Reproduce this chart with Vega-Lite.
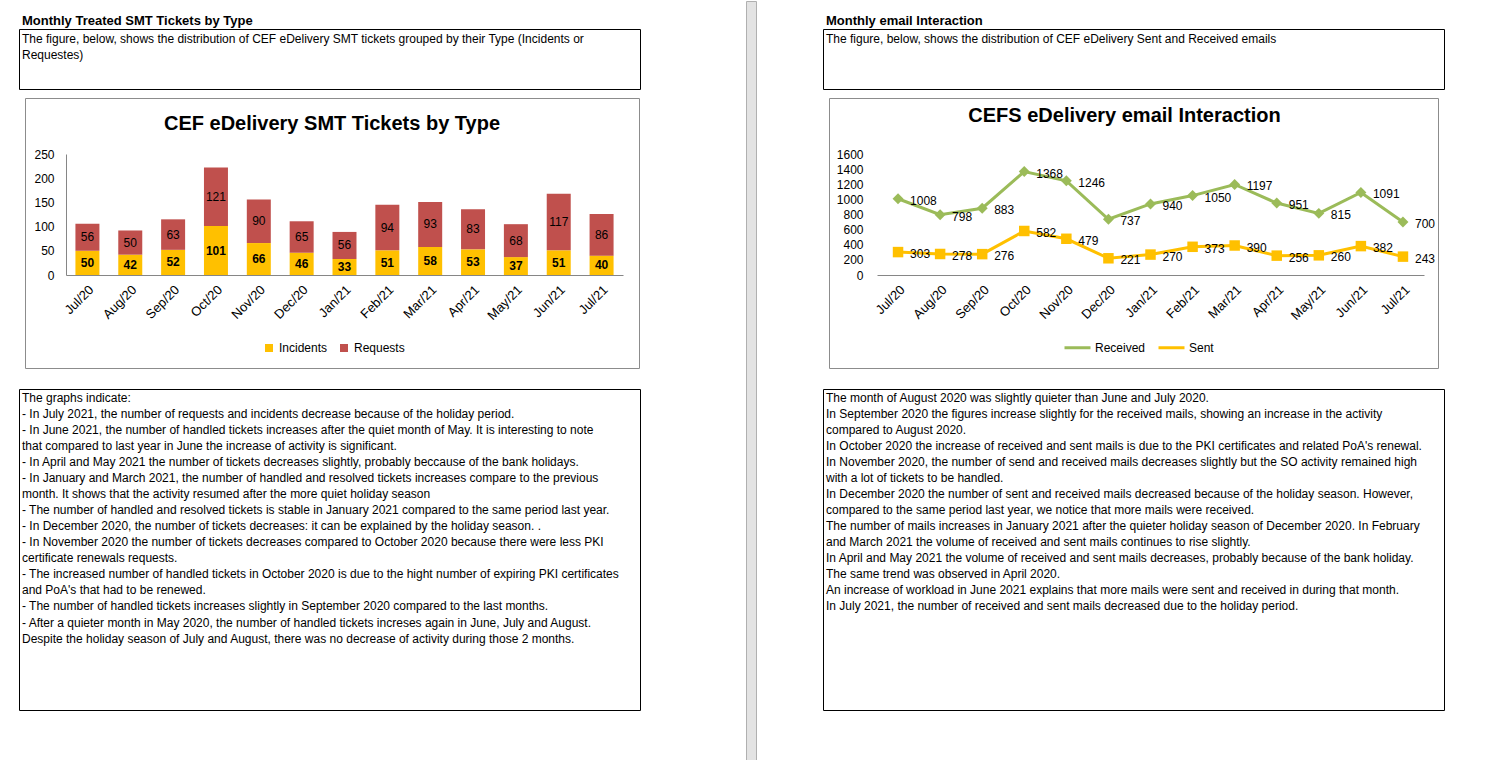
{
  "$schema": "https://vega.github.io/schema/vega-lite/v6.json",
  "padding": {"left": 18, "top": 0, "right": 0, "bottom": 0},
  "background": "white",
  "resolve": {"scale": {"color": "independent"}, "legend": {"color": "independent"}},
  "config": {
    "font": "Liberation Sans",
    "view": {"stroke": null},
    "axis": {"labelFont": "Liberation Sans", "labelColor": "#000", "labelFontSize": 12, "domainColor": "#868686", "grid": false, "ticks": false, "title": null},
    "legend": {"labelFont": "Liberation Sans", "labelColor": "#000", "labelFontSize": 12},
    "title": {"font": "Liberation Sans", "color": "#000", "fontWeight": "bold"}
  },
  "datasets": {
    "tickets": [
      {"month": "Jul/20", "type": "Incidents", "count": 50}, {"month": "Jul/20", "type": "Requests", "count": 56},
      {"month": "Aug/20", "type": "Incidents", "count": 42}, {"month": "Aug/20", "type": "Requests", "count": 50},
      {"month": "Sep/20", "type": "Incidents", "count": 52}, {"month": "Sep/20", "type": "Requests", "count": 63},
      {"month": "Oct/20", "type": "Incidents", "count": 101}, {"month": "Oct/20", "type": "Requests", "count": 121},
      {"month": "Nov/20", "type": "Incidents", "count": 66}, {"month": "Nov/20", "type": "Requests", "count": 90},
      {"month": "Dec/20", "type": "Incidents", "count": 46}, {"month": "Dec/20", "type": "Requests", "count": 65},
      {"month": "Jan/21", "type": "Incidents", "count": 33}, {"month": "Jan/21", "type": "Requests", "count": 56},
      {"month": "Feb/21", "type": "Incidents", "count": 51}, {"month": "Feb/21", "type": "Requests", "count": 94},
      {"month": "Mar/21", "type": "Incidents", "count": 58}, {"month": "Mar/21", "type": "Requests", "count": 93},
      {"month": "Apr/21", "type": "Incidents", "count": 53}, {"month": "Apr/21", "type": "Requests", "count": 83},
      {"month": "May/21", "type": "Incidents", "count": 37}, {"month": "May/21", "type": "Requests", "count": 68},
      {"month": "Jun/21", "type": "Incidents", "count": 51}, {"month": "Jun/21", "type": "Requests", "count": 117},
      {"month": "Jul/21", "type": "Incidents", "count": 40}, {"month": "Jul/21", "type": "Requests", "count": 86}
    ],
    "emails": [
      {"month": "Jul/20", "series": "Received", "count": 1008}, {"month": "Jul/20", "series": "Sent", "count": 303},
      {"month": "Aug/20", "series": "Received", "count": 798}, {"month": "Aug/20", "series": "Sent", "count": 278},
      {"month": "Sep/20", "series": "Received", "count": 883}, {"month": "Sep/20", "series": "Sent", "count": 276},
      {"month": "Oct/20", "series": "Received", "count": 1368}, {"month": "Oct/20", "series": "Sent", "count": 582},
      {"month": "Nov/20", "series": "Received", "count": 1246}, {"month": "Nov/20", "series": "Sent", "count": 479},
      {"month": "Dec/20", "series": "Received", "count": 737}, {"month": "Dec/20", "series": "Sent", "count": 221},
      {"month": "Jan/21", "series": "Received", "count": 940}, {"month": "Jan/21", "series": "Sent", "count": 270},
      {"month": "Feb/21", "series": "Received", "count": 1050}, {"month": "Feb/21", "series": "Sent", "count": 373},
      {"month": "Mar/21", "series": "Received", "count": 1197}, {"month": "Mar/21", "series": "Sent", "count": 390},
      {"month": "Apr/21", "series": "Received", "count": 951}, {"month": "Apr/21", "series": "Sent", "count": 256},
      {"month": "May/21", "series": "Received", "count": 815}, {"month": "May/21", "series": "Sent", "count": 260},
      {"month": "Jun/21", "series": "Received", "count": 1091}, {"month": "Jun/21", "series": "Sent", "count": 382},
      {"month": "Jul/21", "series": "Received", "count": 700}, {"month": "Jul/21", "series": "Sent", "count": 243}
    ],
    "descL": [
      {"line": 0, "text": "The figure, below, shows the distribution of CEF eDelivery SMT tickets grouped by their Type (Incidents or"},
      {"line": 1, "text": "Requestes)"}
    ],
    "descR": [
      {"line": 0, "text": "The figure, below, shows the distribution of CEF eDelivery Sent and Received emails"}
    ],
    "notesL": [
      {"line": 0, "text": "The graphs indicate:"},
      {"line": 1, "text": "- In July 2021, the number of requests and incidents decrease because of the holiday period."},
      {"line": 2, "text": "- In June 2021, the number of handled tickets increases after the quiet month of May. It is interesting to note"},
      {"line": 3, "text": "that compared to last year in June the increase of activity is significant."},
      {"line": 4, "text": "- In April and May 2021 the number of tickets decreases slightly, probably beccause of the bank holidays."},
      {"line": 5, "text": "- In January and March 2021, the number of handled and resolved tickets increases compare to the previous"},
      {"line": 6, "text": "month. It shows that the activity resumed after the more quiet holiday season"},
      {"line": 7, "text": "- The number of handled and resolved tickets is stable in January 2021 compared to the same period last year."},
      {"line": 8, "text": "- In December 2020, the number of tickets decreases: it can be explained by the holiday season. ."},
      {"line": 9, "text": "- In November 2020 the number of tickets decreases compared to October 2020 because there were less PKI"},
      {"line": 10, "text": "certificate renewals requests."},
      {"line": 11, "text": "- The increased number of handled tickets in October 2020 is due to the hight number of expiring PKI certificates"},
      {"line": 12, "text": "and PoA's that had to be renewed."},
      {"line": 13, "text": "- The number of handled tickets increases slightly in September 2020 compared to the last months."},
      {"line": 14, "text": "- After a quieter month in May 2020, the number of handled tickets increses again in June, July and August."},
      {"line": 15, "text": "Despite the holiday season of July and August, there was no decrease of activity during those 2 months."}
    ],
    "notesR": [
      {"line": 0, "text": "The month of August 2020 was slightly quieter than June and July 2020."},
      {"line": 1, "text": "In September 2020 the figures increase slightly for the received mails, showing an increase in the activity"},
      {"line": 2, "text": "compared to August 2020."},
      {"line": 3, "text": "In October 2020 the increase of received and sent mails is due to the PKI certificates and related PoA's renewal."},
      {"line": 4, "text": "In November 2020, the number of send and received mails decreases slightly but the SO activity remained high"},
      {"line": 5, "text": "with a lot of tickets to be handled."},
      {"line": 6, "text": "In December 2020 the number of sent and received mails decreased because of the holiday season. However,"},
      {"line": 7, "text": "compared to the same period last year, we notice that more mails were received."},
      {"line": 8, "text": "The number of mails increases in January 2021 after the quieter holiday season of December 2020. In February"},
      {"line": 9, "text": "and March 2021 the volume of received and sent mails continues to rise slightly."},
      {"line": 10, "text": "In April and May 2021 the volume of received and sent mails decreases, probably because of the bank holiday."},
      {"line": 11, "text": "The same trend was observed in April 2020."},
      {"line": 12, "text": "An increase of workload in June 2021 explains that more mails were sent and received in during that month."},
      {"line": 13, "text": "In July 2021, the number of received and sent mails decreased due to the holiday period."}
    ]
  },
  "spacing": 104,
  "hconcat": [
    {
      "spacing": 11,
      "resolve": {"scale": {"color": "independent"}, "legend": {"color": "independent"}},
      "vconcat": [
        {"width": 1, "height": 1, "view": {"stroke": "transparent"}, "data": {"values": []}, "mark": "rect"},
        {
          "spacing": 19,
          "resolve": {"scale": {"color": "independent"}, "legend": {"color": "independent"}},
          "vconcat": [
            {
              "spacing": 7,
              "resolve": {"scale": {"color": "independent"}, "legend": {"color": "independent"}},
              "vconcat": [
                {
                  "width": 621, "height": 60,
                  "view": {"stroke": "#000", "strokeWidth": 1},
                  "title": {"text": "Monthly Treated SMT Tickets by Type", "anchor": "start", "fontSize": 13, "offset": 1, "dx": 3},
                  "data": {"name": "descL"},
                  "mark": {"type": "text", "align": "left", "baseline": "middle", "dx": 3, "fontSize": 12, "color": "#000"},
                  "encoding": {
                    "x": {"datum": 0, "type": "quantitative", "scale": {"domain": [0, 1]}, "axis": null},
                    "y": {"field": "line", "type": "quantitative", "scale": {"domain": [-0.6, 3.15], "reverse": true}, "axis": null},
                    "text": {"field": "text"}
                  }
                },
                {
                  "spacing": 3,
                  "resolve": {"scale": {"color": "independent"}, "legend": {"color": "independent"}},
                  "hconcat": [
                    {"width": 1, "height": 1, "view": {"stroke": "transparent"}, "data": {"values": []}, "mark": "rect"},
                    {
                      "width": 614, "height": 270,
                      "view": {"stroke": "#8c8c8c", "strokeWidth": 1},
                      "title": {"text": "CEF eDelivery SMT Tickets by Type", "fontSize": 20, "anchor": "middle", "offset": -36},
                      "data": {"name": "tickets"},
                      "encoding": {
                        "x": {
                          "field": "month", "type": "nominal",
                          "sort": ["Jul/20", "Aug/20", "Sep/20", "Oct/20", "Nov/20", "Dec/20", "Jan/21", "Feb/21", "Mar/21", "Apr/21", "May/21", "Jun/21", "Jul/21"],
                          "scale": {"range": [41, 598], "paddingInner": 0.44, "paddingOuter": 0.22},
                          "axis": {"labelAngle": -45, "offset": -93, "labelPadding": 8, "labelFontSize": 13}
                        }
                      },
                      "layer": [
                        {
                          "mark": {"type": "bar"},
                          "encoding": {
                            "y": {"field": "count", "type": "quantitative", "stack": "zero",
                                  "scale": {"domain": [0, 250], "range": [177, 56], "nice": false},
                                  "axis": {"values": [0, 50, 100, 150, 200, 250], "offset": -41, "labelPadding": 12}},
                            "color": {"field": "type", "type": "nominal",
                                      "scale": {"domain": ["Incidents", "Requests"], "range": ["#FFC000", "#C0504D"]},
                                      "legend": {"orient": "none", "legendX": 238, "legendY": 244, "direction": "horizontal", "title": null,
                                                 "symbolType": "square", "symbolSize": 64, "symbolStrokeWidth": 0, "columnPadding": 10, "labelOffset": 4}},
                            "order": {"field": "type", "sort": "ascending"}
                          }
                        },
                        {
                          "transform": [
                            {"stack": "count", "groupby": ["month"], "sort": [{"field": "type", "order": "ascending"}], "as": ["lo", "hi"]},
                            {"fold": ["lo", "hi"], "as": ["edge", "pos"]},
                            {"aggregate": [{"op": "mean", "field": "pos", "as": "mid"}], "groupby": ["month", "type", "count"]},
                            {"filter": {"field": "type", "equal": "Incidents"}}
                          ],
                          "mark": {"type": "text", "fontSize": 12, "fontWeight": "bold", "baseline": "middle", "color": "#000"},
                          "encoding": {
                            "y": {"field": "mid", "type": "quantitative"},
                            "text": {"field": "count", "type": "quantitative"}
                          }
                        },
                        {
                          "transform": [
                            {"stack": "count", "groupby": ["month"], "sort": [{"field": "type", "order": "ascending"}], "as": ["lo", "hi"]},
                            {"fold": ["lo", "hi"], "as": ["edge", "pos"]},
                            {"aggregate": [{"op": "mean", "field": "pos", "as": "mid"}], "groupby": ["month", "type", "count"]},
                            {"filter": {"field": "type", "equal": "Requests"}}
                          ],
                          "mark": {"type": "text", "fontSize": 12, "baseline": "middle", "color": "#000"},
                          "encoding": {
                            "y": {"field": "mid", "type": "quantitative"},
                            "text": {"field": "count", "type": "quantitative"}
                          }
                        }
                      ]
                    }
                  ]
                }
              ]
            },
            {
              "width": 621, "height": 321,
              "view": {"stroke": "#000", "strokeWidth": 1},
              "data": {"name": "notesL"},
              "mark": {"type": "text", "align": "left", "baseline": "middle", "dx": 3, "fontSize": 12, "color": "#000"},
              "encoding": {
                "x": {"datum": 0, "type": "quantitative", "scale": {"domain": [0, 1]}, "axis": null},
                "y": {"field": "line", "type": "quantitative", "scale": {"domain": [-0.55, 19.45], "reverse": true}, "axis": null},
                "text": {"field": "text"}
              }
            }
          ]
        }
      ]
    },
    {
      "spacing": 65,
      "resolve": {"scale": {"color": "independent"}, "legend": {"color": "independent"}},
      "hconcat": [
        {"width": 10, "height": 760, "view": {"stroke": "#b0b0b0", "fill": "#e3e3e3"}, "data": {"values": []}, "mark": "rect"},
        {
          "spacing": 11,
          "resolve": {"scale": {"color": "independent"}, "legend": {"color": "independent"}},
          "vconcat": [
            {"width": 1, "height": 1, "view": {"stroke": "transparent"}, "data": {"values": []}, "mark": "rect"},
            {
              "spacing": 19,
              "resolve": {"scale": {"color": "independent"}, "legend": {"color": "independent"}},
              "vconcat": [
                {
                  "spacing": 7,
                  "resolve": {"scale": {"color": "independent"}, "legend": {"color": "independent"}},
                  "vconcat": [
                    {
                      "width": 621, "height": 60,
                      "view": {"stroke": "#000", "strokeWidth": 1},
                      "title": {"text": "Monthly email Interaction", "anchor": "start", "fontSize": 13, "offset": 1, "dx": 3},
                      "data": {"name": "descR"},
                      "mark": {"type": "text", "align": "left", "baseline": "middle", "dx": 3, "fontSize": 12, "color": "#000"},
                      "encoding": {
                        "x": {"datum": 0, "type": "quantitative", "scale": {"domain": [0, 1]}, "axis": null},
                        "y": {"field": "line", "type": "quantitative", "scale": {"domain": [-0.6, 3.15], "reverse": true}, "axis": null},
                        "text": {"field": "text"}
                      }
                    },
                    {
                      "spacing": 3,
                      "resolve": {"scale": {"color": "independent"}, "legend": {"color": "independent"}},
                      "hconcat": [
                        {"width": 1, "height": 1, "view": {"stroke": "transparent"}, "data": {"values": []}, "mark": "rect"},
                        {
                          "width": 609, "height": 270,
                          "view": {"stroke": "#8c8c8c", "strokeWidth": 1},
                          "title": {"text": "CEFS eDelivery email Interaction", "fontSize": 20, "anchor": "middle", "offset": -28, "dx": -9},
                          "data": {"name": "emails"},
                          "encoding": {
                            "x": {
                              "field": "month", "type": "ordinal",
                              "sort": ["Jul/20", "Aug/20", "Sep/20", "Oct/20", "Nov/20", "Dec/20", "Jan/21", "Feb/21", "Mar/21", "Apr/21", "May/21", "Jun/21", "Jul/21"],
                              "scale": {"type": "point", "range": [48, 595], "padding": 0.5},
                              "axis": {"labelAngle": -45, "offset": -93, "labelPadding": 8, "labelFontSize": 13}
                            },
                            "y": {"field": "count", "type": "quantitative",
                                  "scale": {"domain": [0, 1600], "range": [177, 56], "nice": false},
                                  "axis": {"values": [0, 200, 400, 600, 800, 1000, 1200, 1400, 1600], "format": "d", "offset": -48, "labelPadding": 14, "domain": false}}
                          },
                          "layer": [
                            {
                              "mark": {"type": "line", "strokeWidth": 3},
                              "encoding": {
                                "color": {"field": "series", "type": "nominal",
                                          "scale": {"domain": ["Received", "Sent"], "range": ["#9BBB59", "#FFC000"]},
                                          "legend": {"orient": "none", "legendX": 234, "legendY": 235, "direction": "horizontal", "title": null,
                                                     "symbolType": "stroke", "symbolSize": 676, "symbolStrokeWidth": 3, "columnPadding": 6, "labelOffset": 3}}
                              }
                            },
                            {
                              "transform": [{"filter": {"field": "series", "equal": "Received"}}],
                              "mark": {"type": "point", "shape": "diamond", "filled": true, "size": 120, "opacity": 1},
                              "encoding": {"color": {"field": "series", "type": "nominal"}}
                            },
                            {
                              "transform": [{"filter": {"field": "series", "equal": "Sent"}}],
                              "mark": {"type": "point", "shape": "square", "filled": true, "size": 110, "opacity": 1},
                              "encoding": {"color": {"field": "series", "type": "nominal"}}
                            },
                            {
                              "mark": {"type": "text", "align": "left", "baseline": "middle", "dx": 12, "dy": 2, "fontSize": 12, "color": "#000"},
                              "encoding": {"text": {"field": "count", "type": "quantitative"}}
                            }
                          ]
                        }
                      ]
                    }
                  ]
                },
                {
                  "width": 621, "height": 321,
                  "view": {"stroke": "#000", "strokeWidth": 1},
                  "data": {"name": "notesR"},
                  "mark": {"type": "text", "align": "left", "baseline": "middle", "dx": 3, "fontSize": 12, "color": "#000"},
                  "encoding": {
                    "x": {"datum": 0, "type": "quantitative", "scale": {"domain": [0, 1]}, "axis": null},
                    "y": {"field": "line", "type": "quantitative", "scale": {"domain": [-0.55, 19.45], "reverse": true}, "axis": null},
                    "text": {"field": "text"}
                  }
                }
              ]
            }
          ]
        }
      ]
    }
  ]
}
